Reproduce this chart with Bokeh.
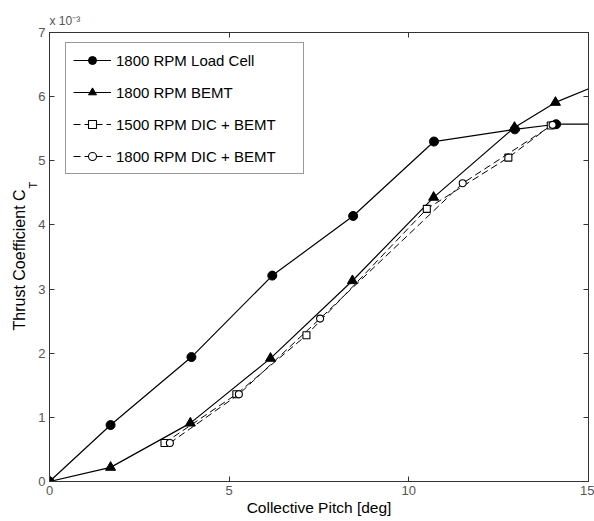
from bokeh.plotting import figure
from bokeh.models import LinearAxis, Legend, LegendItem, FixedTicker, Title
from bokeh.embed import file_html
from bokeh.resources import INLINE

# ---- data (thrust coefficient in units of 1e-3) ----
pitch_lc = [0, 1.7, 3.95, 6.2, 8.45, 10.7, 12.95, 14.1, 16.3]
ct_lc = [0, 0.88, 1.94, 3.21, 4.14, 5.30, 5.49, 5.57, 5.57]

pitch_bemt = [0, 1.7, 3.92, 6.15, 8.43, 10.69, 12.94, 14.08, 16.3]
ct_bemt = [0, 0.22, 0.91, 1.92, 3.13, 4.43, 5.52, 5.91, 6.42]

pitch_1500 = [3.2, 5.2, 7.15, 10.5, 12.77, 13.95]
ct_1500 = [0.60, 1.36, 2.28, 4.25, 5.05, 5.55]

pitch_1800dic = [3.35, 5.27, 7.53, 11.5, 14.0]
ct_1800dic = [0.60, 1.36, 2.54, 4.65, 5.56]

x_ticks = [0, 5, 10, 15]
y_ticks = [0, 1, 2, 3, 4, 5, 6, 7]

FONT = "Liberation Sans"

p = figure(width=594, height=521, x_range=(0, 15), y_range=(0, 7),
           output_backend="svg", toolbar_location=None,
           min_border_left=49, min_border_right=6, min_border_top=32,
           min_border_bottom=40, x_axis_location=None, y_axis_location=None)
p.xgrid.visible = False
p.ygrid.visible = False
p.outline_line_color = "#333333"
p.outline_line_width = 1
p.background_fill_color = "white"
p.border_fill_color = "white"


def style_axis(ax, ticks, show_labels):
    ax.axis_line_color = "#333333"
    ax.major_tick_line_color = "#333333"
    ax.major_tick_in = 5
    ax.major_tick_out = 0
    ax.minor_tick_line_color = None
    ax.major_label_text_font = FONT
    ax.major_label_text_font_size = "13px"
    ax.major_label_text_color = "#555555"
    ax.major_label_standoff = 4 if show_labels else 0
    if not show_labels:
        ax.major_label_overrides = {t: "" for t in ticks}


xb = LinearAxis(ticker=FixedTicker(ticks=x_ticks))
style_axis(xb, x_ticks, True)
xb.axis_label = "Collective Pitch [deg]"
xb.axis_label_text_font = FONT
xb.axis_label_text_font_size = "15.5px"
xb.axis_label_text_font_style = "normal"
xb.axis_label_text_color = "black"
xb.axis_label_standoff = 1
p.add_layout(xb, "below")

yl = LinearAxis(ticker=FixedTicker(ticks=y_ticks))
style_axis(yl, y_ticks, True)
p.add_layout(yl, "left")
xt = LinearAxis(ticker=FixedTicker(ticks=x_ticks))
style_axis(xt, x_ticks, False)
p.add_layout(xt, "above")
yr = LinearAxis(ticker=FixedTicker(ticks=y_ticks))
style_axis(yr, y_ticks, False)
p.add_layout(yr, "right")

# y-axis label with subscript, stacked outward from the axis
p.add_layout(Title(text="T", align="left", offset=293, text_font=FONT,
                   text_font_size="11px", text_font_style="normal",
                   text_color="black", standoff=-6), "left")
p.add_layout(Title(text="Thrust Coefficient C", align="left", offset=151,
                   text_font=FONT, text_font_size="16px",
                   text_font_style="normal", text_color="black", standoff=0), "left")

# exponent marker above the axes
p.add_layout(Title(text="x 10\u207b\u00b3", align="left", offset=0, text_font=FONT,
                   text_font_size="12px", text_font_style="normal",
                   vertical_align="top", text_color="#555555", standoff=5), "above")

LW = 1.2
l1 = p.line(pitch_lc, ct_lc, line_color="black", line_width=LW)
m1 = p.scatter(pitch_lc, ct_lc, marker="circle", size=9, fill_color="black", line_color="black")
l2 = p.line(pitch_bemt, ct_bemt, line_color="black", line_width=LW)
m2 = p.scatter(pitch_bemt, ct_bemt, marker="triangle", size=10, fill_color="black", line_color="black")
l3 = p.line(pitch_1500, ct_1500, line_color="black", line_width=1.0, line_dash="7 4")
m3 = p.scatter(pitch_1500, ct_1500, marker="square", size=7, fill_color="white", line_color="black", line_width=1.1)
l4 = p.line(pitch_1800dic, ct_1800dic, line_color="black", line_width=1.0, line_dash="7 4")
m4 = p.scatter(pitch_1800dic, ct_1800dic, marker="circle", size=7, fill_color="white", line_color="black", line_width=1.1)

legend = Legend(items=[
    LegendItem(label="1800 RPM Load Cell", renderers=[l1, m1]),
    LegendItem(label="1800 RPM BEMT", renderers=[l2, m2]),
    LegendItem(label="1500 RPM DIC + BEMT", renderers=[l3, m3]),
    LegendItem(label="1800 RPM DIC + BEMT", renderers=[l4, m4]),
], location=(16, 307))
legend.label_text_font = FONT
legend.label_text_font_size = "15px"
legend.label_text_color = "black"
legend.glyph_width = 38
legend.glyph_height = 20
legend.label_height = 20
legend.label_width = 180
legend.label_standoff = 5
legend.spacing = 12
legend.padding = 7
legend.margin = 0
legend.border_line_color = "#333333"
legend.border_line_width = 1
legend.background_fill_color = "white"
legend.background_fill_alpha = 1
p.add_layout(legend, "center")

open("out.html", "w").write(file_html(p, INLINE))
